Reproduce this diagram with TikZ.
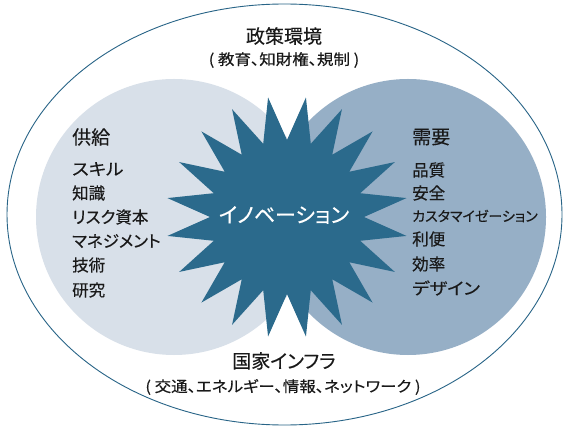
\documentclass[tikz,border=0pt]{standalone}
\usepackage{graphicx}
\usepackage{fontspec}
\setmainfont{Noto Sans CJK JP}[RawFeature=+palt, FakeBold=0.3]
\definecolor{starblue}{RGB}{43,106,140}
\definecolor{leftfill}{RGB}{216,224,233}
\definecolor{rightfill}{RGB}{150,175,198}
\definecolor{linecol}{RGB}{40,100,135}
\definecolor{txt}{RGB}{25,25,25}
\newcommand{\widen}[2]{\scalebox{#1}[1]{#2}}
\tikzset{
  big/.style={font=\fontsize{19}{19}\selectfont, text=txt, inner sep=0pt},
  item/.style={font=\fontsize{16.5}{16.5}\selectfont, text=txt, inner sep=0pt, anchor=west},
  paren/.style={font=\fontsize{15}{15}\selectfont, text=txt, inner sep=0pt},
  blob/.style={circle, inner sep=0pt, minimum size=276pt}
}
\begin{document}
\begin{tikzpicture}[x=1pt,y=-1pt]
\useasboundingbox (0,0) rectangle (564,427);
\fill[white] (0,0) rectangle (564,427);
\draw[linecol, line width=0.9pt] (284.5,214.5) ellipse [x radius=277.5, y radius=210.5];
\node[blob, fill=leftfill] (supply) at (174,217) {};
\node[blob, fill=rightfill] (demand) at (408,217) {};
\fill[starblue, shift={(287,217)}] (81:121)
  \foreach \i in {1,...,39} { -- ({81+9*\i}:{mod(\i,2)==0 ? 121 : 77}) } -- cycle;
\node[font=\fontsize{21}{21}\selectfont, text=white, inner sep=0pt] (inno) at (284,215) {イノベーション};
\node[big] (policy) at (284,36) {政策環境};
\node[paren] (policysub) at (284,60) {\widen{1.1}{( 教育、知財権、規制 )}};
\node[big, anchor=west] (sh) at (72,137) {供給};
\node[item] (s1) at (72,169) {\widen{1.12}{スキル}};
\node[item] (s2) at (72,193) {知識};
\node[item] (s3) at (72,217) {リスク資本};
\node[item] (s4) at (72,241) {マネジメント};
\node[item] (s5) at (72,265) {技術};
\node[item] (s6) at (72,290) {研究};
\node[big, anchor=west] (dh) at (412,137) {需要};
\node[item] (d1) at (412,170) {品質};
\node[item] (d2) at (412,193) {安全};
\node[item, font=\fontsize{14}{14}\selectfont] (d3) at (412,216) {カスタマイゼーション};
\node[item] (d4) at (412,239) {利便};
\node[item] (d5) at (412,264) {効率};
\node[item] (d6) at (412,288) {\widen{1.12}{デザイン}};
\node[big] (infra) at (284,361) {国家インフラ};
\node[paren] (infrasub) at (283,387) {\widen{1.1}{( 交通、エネルギー、情報、ネットワーク )}};
\end{tikzpicture}
\end{document}
